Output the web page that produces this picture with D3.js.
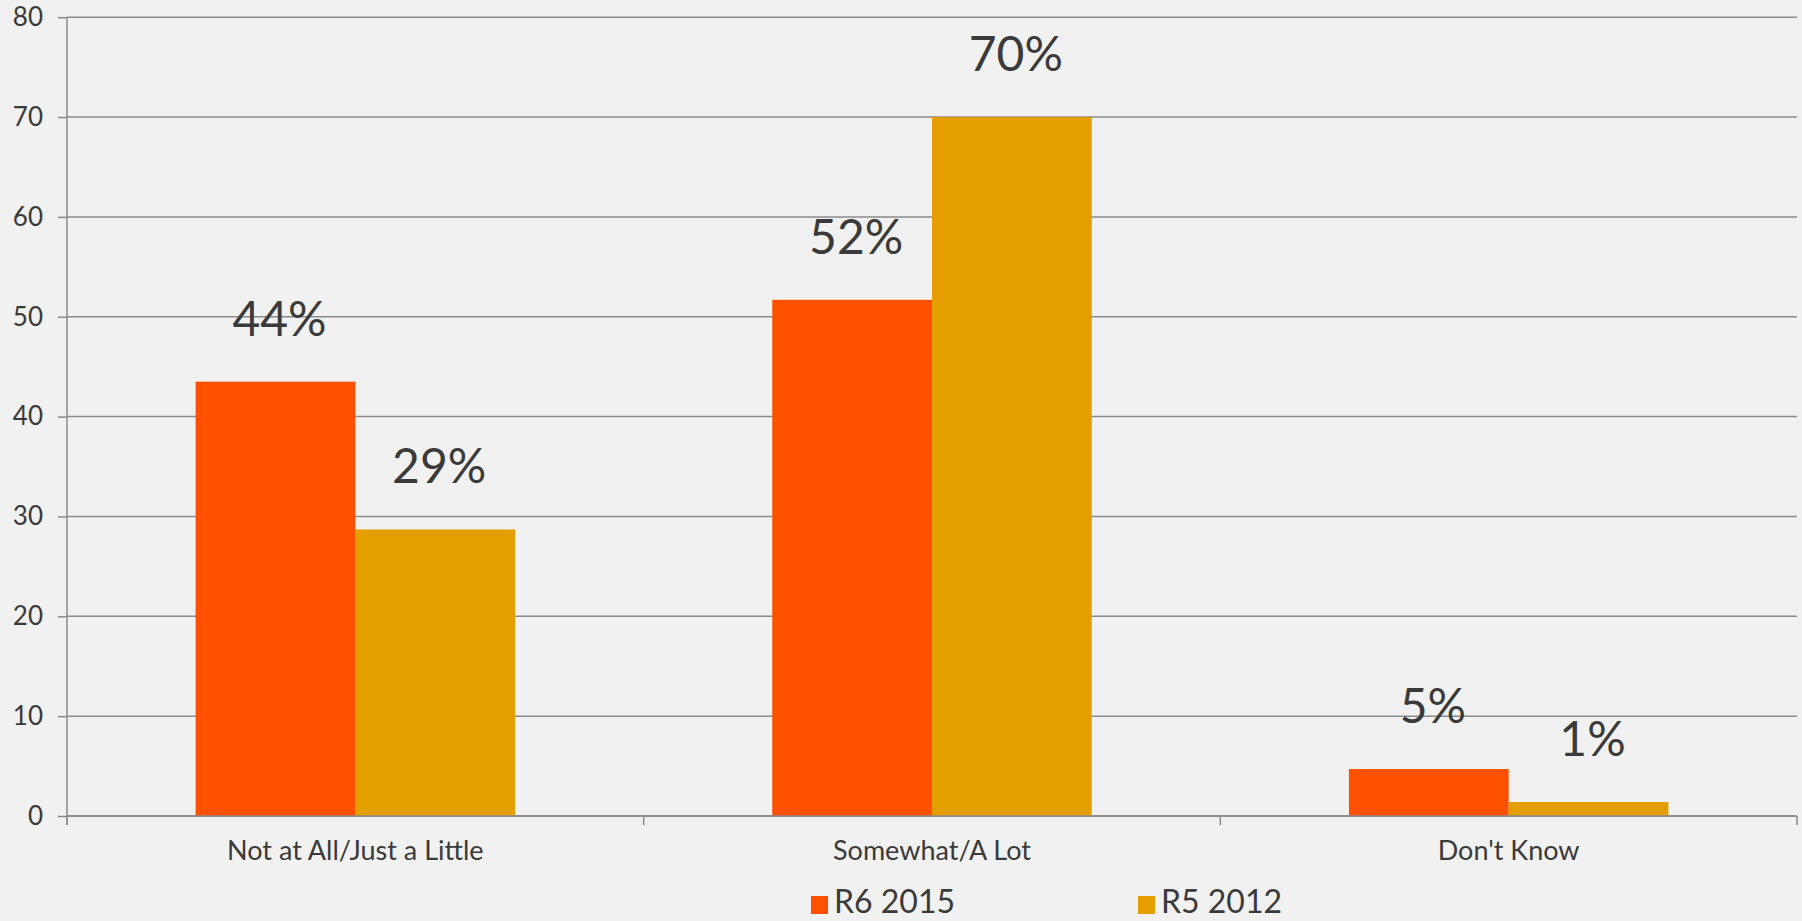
<!DOCTYPE html>
<html>
<head>
<meta charset="utf-8">
<script src="https://cdn.jsdelivr.net/npm/d3@7"></script>
<style>
  html, body { margin: 0; padding: 0; background: #f1f1f1; }
  svg { display: block; }
  text { font-family: "Century Gothic", "URW Gothic", Lato, sans-serif; fill: #3a3a3a; }
</style>
</head>
<body>
<svg id="chart" width="1802" height="921"></svg>
<script>
// ---- data ----
const categories = ["Not at All/Just a Little", "Somewhat/A Lot", "Don't Know"];
const seriesNames = ["R6 2015", "R5 2012"];
const r6_2015 = [43.5, 51.7, 4.7];
const r5_2012 = [28.7, 70.0, 1.4];
const labels_r6 = ["44%", "52%", "5%"];
const labels_r5 = ["29%", "70%", "1%"];
const yTicks = [0, 10, 20, 30, 40, 50, 60, 70, 80];
const colors = ["#FF5000", "#E59E00"];

const seriesValues = [r6_2015, r5_2012];
const seriesLabels = [labels_r6, labels_r5];

// ---- layout ----
const W = 1802, H = 921;
const plot = { left: 67, right: 1797, top: 17.2, bottom: 816 };

const svg = d3.select("#chart");
svg.append("rect").attr("width", W).attr("height", H).attr("fill", "#f1f1f1");

const y = d3.scaleLinear().domain([0, 80]).range([plot.bottom, plot.top]);
const x0 = d3.scaleBand().domain(categories).range([plot.left, plot.right])
  .paddingInner(0.446).paddingOuter(0.223);
const x1 = d3.scaleBand().domain(seriesNames).range([0, x0.bandwidth()]).padding(0);

// y axis ticks + labels
const yAxis = d3.axisLeft(y).tickValues(yTicks).tickSize(9).tickPadding(15).tickFormat(d3.format("d"));
const gy = svg.append("g").attr("transform", `translate(${plot.left},0)`).call(yAxis);
gy.select(".domain").remove();
gy.selectAll(".tick line").attr("stroke", "#8a8a8a").attr("stroke-width", 1.5);
gy.selectAll(".tick text").attr("font-size", 26).style("fill", "#3a3a3a");

// horizontal gridlines
svg.append("g").selectAll("line").data(yTicks).join("line")
  .attr("x1", plot.left).attr("x2", plot.right)
  .attr("y1", d => y(d)).attr("y2", d => y(d))
  .attr("stroke", "#8a8a8a").attr("stroke-width", 1.5);

// vertical y axis line
svg.append("line").attr("x1", plot.left).attr("x2", plot.left)
  .attr("y1", plot.top).attr("y2", plot.bottom + 9)
  .attr("stroke", "#8a8a8a").attr("stroke-width", 1.5);

// x-axis category boundary ticks
const step = x0.step();
const boundaries = d3.range(categories.length + 1).map(i => plot.left + i * step);
svg.append("g").selectAll("line").data(boundaries).join("line")
  .attr("x1", d => d).attr("x2", d => d)
  .attr("y1", plot.bottom).attr("y2", plot.bottom + 9)
  .attr("stroke", "#8a8a8a").attr("stroke-width", 1.5);

// bars
const groups = svg.append("g").selectAll("g").data(categories).join("g")
  .attr("transform", c => `translate(${x0(c)},0)`);

groups.selectAll("rect")
  .data((c, i) => seriesNames.map((s, j) => ({ s, j, v: seriesValues[j][i], lab: seriesLabels[j][i] })))
  .join("rect")
  .attr("x", d => x1(d.s))
  .attr("width", x1.bandwidth())
  .attr("y", d => y(d.v))
  .attr("height", d => y(0) - y(d.v))
  .attr("fill", d => colors[d.j]);

// redraw baseline over bars
svg.append("line").attr("x1", plot.left).attr("x2", plot.right)
  .attr("y1", y(0)).attr("y2", y(0))
  .attr("stroke", "#8a8a8a").attr("stroke-width", 1.5);

// value labels
groups.selectAll("text.val")
  .data((c, i) => seriesNames.map((s, j) => ({ s, j, v: seriesValues[j][i], lab: seriesLabels[j][i] })))
  .join("text")
  .attr("class", "val")
  .attr("x", d => x1(d.s) + x1.bandwidth() / 2 + 4)
  .attr("y", d => y(d.v) - 46)
  .attr("text-anchor", "middle")
  .attr("font-size", 48)
  .text(d => d.lab);

// category labels
svg.append("g").selectAll("text").data(categories).join("text")
  .attr("x", c => x0(c) + x0.bandwidth() / 2)
  .attr("y", 860)
  .attr("text-anchor", "middle")
  .attr("font-size", 27)
  .text(c => c);

// legend
const legendX = [811, 1138];
const leg = svg.append("g").selectAll("g").data(seriesNames).join("g")
  .attr("transform", (s, i) => `translate(${legendX[i]},0)`);
leg.append("rect").attr("x", 0).attr("y", 896).attr("width", 17).attr("height", 18)
  .attr("fill", (s, i) => colors[i]);
leg.append("text").attr("x", 23).attr("y", 913).attr("font-size", 32).text(s => s);
</script>
</body>
</html>
